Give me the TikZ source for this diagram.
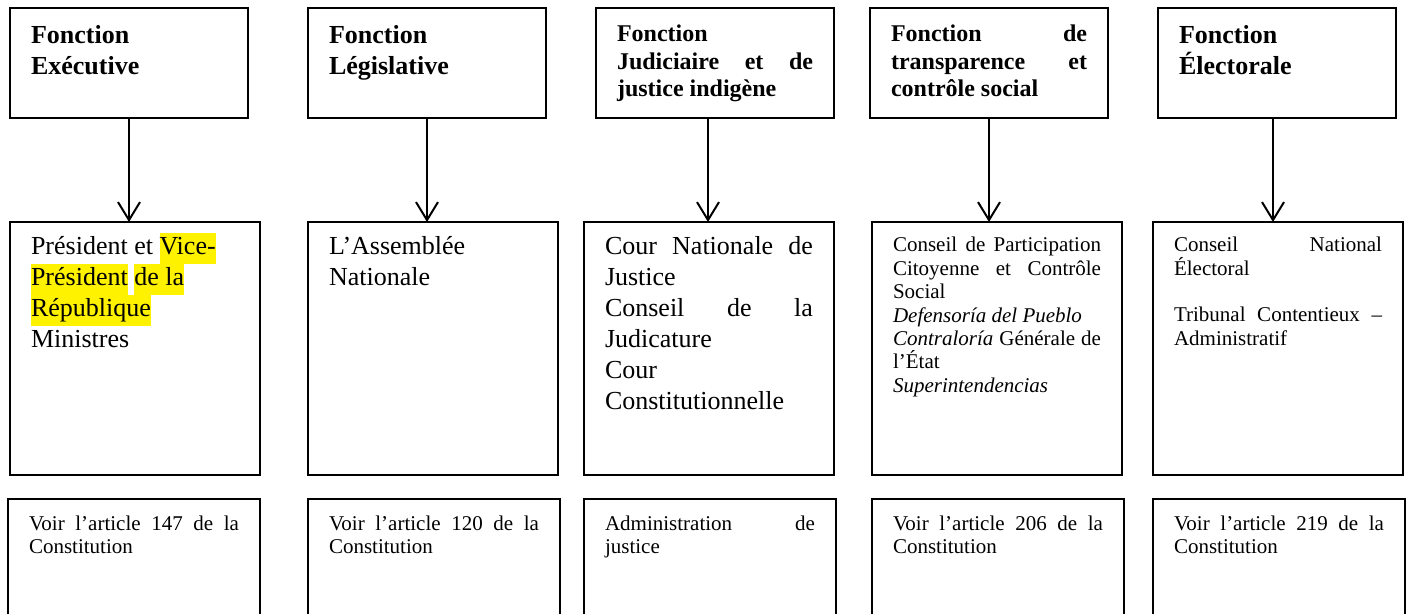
\documentclass[tikz,border=0pt]{standalone}
\usepackage{fontspec}
\setmainfont{Liberation Serif}
\usepackage{xcolor}
\usepackage{tikz}
\usetikzlibrary{arrows.meta,positioning}
\tikzset{fonctionbox/.style={draw,line width=1pt,anchor=north west,inner xsep=10.5pt,inner ysep=0pt,outer sep=0pt,
        text width=98pt,text height=18pt,text depth=37pt,align=justify,font=\fontsize{13}{15.5}\selectfont\bfseries},
    petitfonctionbox/.style={fonctionbox,text height=17pt,text depth=38pt,font=\fontsize{12}{13.6}\selectfont\bfseries},
    organebox/.style={draw,line width=1pt,anchor=north west,inner xsep=10.5pt,inner ysep=0pt,outer sep=0pt,
        text width=104pt,text height=16.5pt,text depth=110pt,align=justify,font=\fontsize{13}{15.5}\selectfont},
    petitorganebox/.style={organebox,text height=15pt,text depth=111.5pt,font=\fontsize{10.5}{11.7}\selectfont},
    articlebox/.style={draw,line width=1pt,anchor=north west,inner xsep=10.5pt,inner ysep=0pt,outer sep=0pt,
        text width=105pt,text height=15.5pt,text depth=60pt,align=justify,font=\fontsize{10.5}{11.7}\selectfont},
    fleche/.style={line width=1pt,-{Straight Barb[length=9pt,width=11pt]}}
}
\newcommand{\surligne}[1]
{%
% args: (text to highlight)
    {\setlength{\fboxsep}{0pt}\colorbox{yellow}{\strut #1}}%
}

\begin{document}
\begin{tikzpicture}[x=0.5pt,y=-0.5pt]

\useasboundingbox (0,0) rectangle (1416,614);
\clip (0,0) rectangle (1416,614);

%% the five functions
\node (fonc1) at (10,8) [fonctionbox] {Fonction\\Exécutive};
\node (fonc2) at (308,8) [fonctionbox] {Fonction\\Législative};
\node (fonc3) at (596,8) [petitfonctionbox] {Fonction\\Judiciaire et de\linebreak justice indigène};
\node (fonc4) at (870,8) [petitfonctionbox] {Fonction de\linebreak transparence et\linebreak contrôle social};
\node (fonc5) at (1158,8) [fonctionbox] {Fonction\\Électorale};

%% organs
\node (organe1) at (10,222) [organebox] {Président et \surligne{Vice-}\\\surligne{Président} \surligne{de la}\\\surligne{République}\\Ministres};
\node (organe2) at (308,222) [organebox] {L’Assemblée\\Nationale};
\node (organe3) at (584,222) [organebox] {Cour Nationale de\linebreak Justice\\Conseil de la\linebreak Judicature\\Cour\\Constitutionnelle};
\node (organe4) at (872,222) [petitorganebox] {Conseil de Participation\linebreak Citoyenne et Contrôle\linebreak Social\\\textit{Defensoría del Pueblo}\\\textit{Contraloría} Générale de\linebreak l’État\\\textit{Superintendencias}};
\node (organe5) at (1153,222) [petitorganebox] {Conseil National\linebreak Électoral\\[11.5pt]Tribunal Contentieux –\linebreak Administratif};

%% articles
\node (art1) at (8,499) [articlebox] {Voir l’article 147 de la\linebreak Constitution};
\node (art2) at (308,499) [articlebox] {Voir l’article 120 de la\linebreak Constitution};
\node (art3) at (584,499) [articlebox] {Administration de\linebreak justice};
\node (art4) at (872,499) [articlebox] {Voir l’article 206 de la\linebreak Constitution};
\node (art5) at (1153,499) [articlebox] {Voir l’article 219 de la\linebreak Constitution};

% arrows
\foreach \i/\dx in {1/0,2/0,3/-3.5,4/0,5/-2}
    \draw [fleche] ([xshift=\dx pt]fonc\i.south) -- ([xshift=\dx pt]fonc\i.south |- organe\i.north);

\end{tikzpicture}
\end{document}
